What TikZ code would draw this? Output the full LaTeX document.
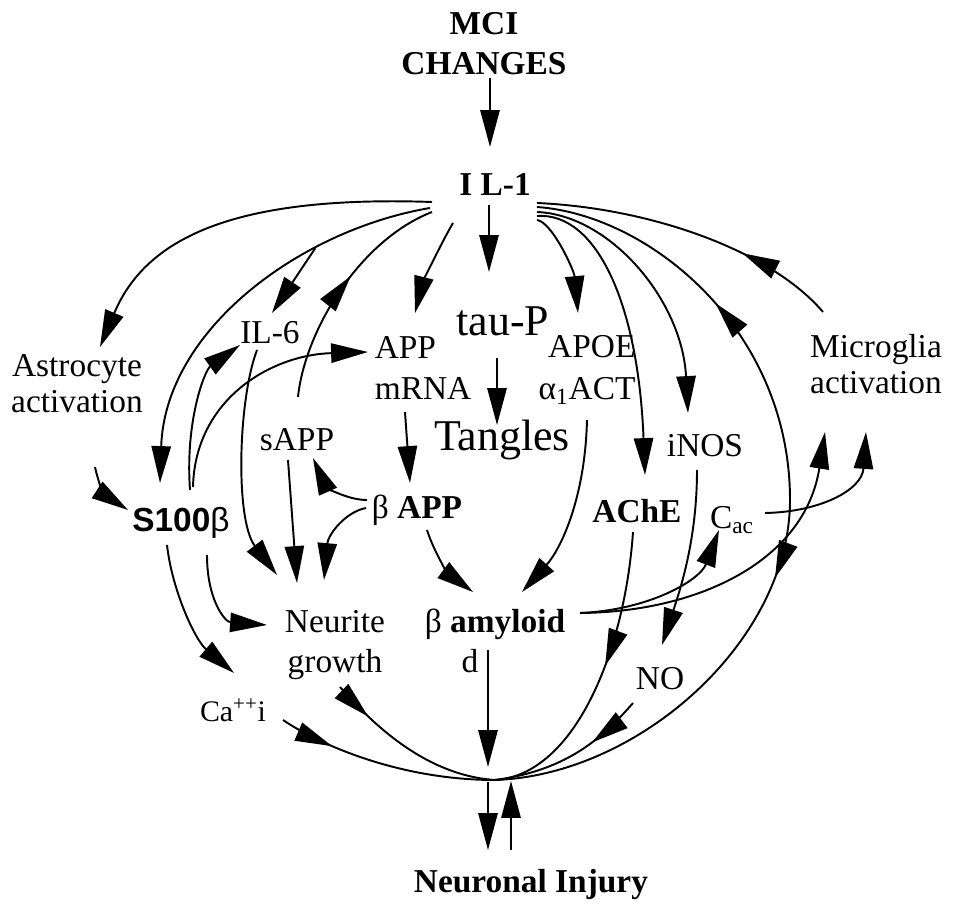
\documentclass[tikz,border=0pt]{standalone}
\usepackage{fontspec}
\setmainfont{Liberation Serif}
\setsansfont{Liberation Sans}
\usetikzlibrary{arrows.meta,calc,decorations.markings}

\begin{document}
\begin{tikzpicture}[x=0.02cm, y=-0.02cm, line width=1.1pt,
  >={Triangle[length=21pt,width=11pt]},
  txt/.style={inner sep=0pt, align=center, font=\fontsize{19}{20.5}\selectfont},
  big/.style={inner sep=0pt, font=\fontsize{25}{27}\selectfont},
  midarr/.style={postaction={decorate}, decoration={markings, mark=at position #1 with {\arrow{>}}}}]
\useasboundingbox (0,0) rectangle (953,911);

\node (mci) [txt, font=\bfseries\fontsize{19}{22.7}\selectfont] at (484,44) {MCI\\CHANGES};
\node (il1) [txt, font=\bfseries\fontsize{19}{21}\selectfont] at (495,184) {I L-1};
\node (astro) [txt] at (77,384) {Astrocyte\\activation};
\node (il6) [txt] at (270,333) {IL-6};
\node (appm) [txt, align=left, font=\fontsize{19}{23.8}\selectfont] at (423,368) {APP\\mRNA};
\node (taup) [big] at (503,321) {tau-P};
\node (apoe) [txt, align=right, font=\fontsize{19}{23.8}\selectfont] at (587,370) {APOE\\α\textsubscript{1}ACT};
\node (tangles) [big] at (502,440) {Tangles};
\node (micro) [txt] at (876,364) {Microglia\\activation};
\node (sapp) [txt] at (297,440) {sAPP};
\node (s100) [txt, font=\sffamily\fontsize{19}{21}\selectfont] at (181,523) {\textbf{S100}β};
\node (bapp) [txt] at (417,510) {β \textbf{APP}};
\node (ache) [txt, font=\bfseries\fontsize{19}{21}\selectfont] at (637,511) {AChE};
\node (inos) [txt] at (705,446) {iNOS};
\node (cac) [txt] at (732,520) {C\textsubscript{ac}};
\node (neurite) [txt, font=\fontsize{19}{22.7}\selectfont] at (335,645) {Neurite\\growth};
\node (bamy) [txt] at (495,624) {β \textbf{amyloid}};
\node (bamyd) [txt] at (470,661) {d};
\node (cai) [txt, font=\fontsize{17}{19}\selectfont] at (233,710) {Ca\textsuperscript{++}i};
\node (no) [txt] at (660,679) {NO};
\node (neur) [txt, font=\bfseries\fontsize{19}{21}\selectfont] at (531,885) {Neuronal Injury};
\coordinate (hub) at (495,780);

% top
\draw [->] ($(mci)+(6,34)$) -- ($(il1)+(-5,-37)$);
\draw [->] ($(il1)+(-6,21)$) -- ($(taup)+(-14,-49)$);

% from IL-1, left side
\draw [->] ($(il1)+(-63,18)$) .. controls (230,195) and (145,240) .. ($(astro)+(23,-37)$);
\draw [->] ($(il1)+(-65,24)$) .. controls (300,230) and (165,330) .. ($(s100)+(-21,-40)$) coordinate[pos=0.3] (fork);
\draw [->] (fork) -- ($(il6)+(2,-20)$);
\draw [midarr=0.56] ($(sapp)+(1,-43)$) .. controls (305,330) and (360,240) .. ($(il1)+(-63,28)$);
\draw [->] ($(il1)+(-42,39)$) .. controls (440,245) and (422,285) .. ($(appm)+(-8,-55)$);

% from IL-1, right side
\draw [->] ($(il1)+(42,36)$) .. controls (552,222) and (574,270) .. ($(apoe)+(-9,-57)$);
\draw [->] ($(il1)+(42,32)$) .. controls (595,212) and (638,300) .. ($(ache)+(8,-36)$);
\draw [->] ($(il1)+(42,28)$) .. controls (610,215) and (682,300) .. ($(inos)+(-17,-33)$);
\draw [midarr=0.32] ($(micro)+(-53,-52)$) .. controls (770,250) and (650,208) .. ($(il1)+(42,19)$);
\draw [postaction={decorate}, decoration={markings, mark=at position 0.24 with {\arrowreversed{>}}, mark=at position 0.58 with {\arrow{>}}}]
  ($(il1)+(42,23)$) .. controls (650,215) and (790,330) .. (790,500) .. controls (790,640) and (640,775) .. (hub);

% middle
\draw [->] ($(taup)+(-6,37)$) -- ($(tangles)+(-5,-15)$);
\draw [->] ($(appm)+(-18,44)$) -- ($(bapp)+(-7,-27)$);
\draw [->] ($(apoe)+(0,50)$) .. controls (585,500) and (560,550) .. ($(bamy)+(27,-32)$);
\draw [->] ($(bapp)+(10,20)$) .. controls (435,555) and (450,575) .. ($(bamy)+(-22,-32)$);
\draw [->] ($(bapp)+(-50,-10)$) .. controls (345,500) and (325,485) .. ($(sapp)+(16,18)$);
\draw [->] ($(bapp)+(-51,-2)$) .. controls (345,512) and (328,535) .. ($(neurite)+(-11,-65)$);
\draw [->] ($(sapp)+(-9,20)$) -- ($(neurite)+(-38,-62)$);
\draw [->] ($(il6)+(-13,17)$) .. controls (238,400) and (235,520) .. ($(neurite)+(-58,-70)$);

% S100b
\draw [->] ($(s100)+(9,-33)$) .. controls (185,420) and (205,370) .. ($(il6)+(-30,12)$);
\draw [->] ($(s100)+(12,-36)$) .. controls (195,400) and (270,355) .. ($(appm)+(-55,-16)$);
\draw [->] ($(astro)+(18,83)$) .. controls (98,482) and (105,495) .. ($(s100)+(-53,-13)$);
\draw [->] ($(s100)+(26,32)$) .. controls (207,600) and (225,622) .. ($(neurite)+(-68,-20)$);
\draw [->] ($(s100)+(-14,22)$) .. controls (172,590) and (195,640) .. ($(cai)+(1,-37)$);

% right: iNOS, Cac, microglia
\draw [->] ($(inos)+(-8,24)$) .. controls (697,540) and (680,590) .. ($(no)+(2,-34)$);
\draw [->] ($(bamy)+(85,-11)$) .. controls (650,610) and (700,580) .. ($(cac)+(-13,10)$);
\draw [->] ($(bamy)+(85,-11)$) .. controls (700,612) and (805,560) .. ($(micro)+(-51,68)$);
\draw [->] ($(cac)+(33,-7)$) .. controls (820,512) and (862,490) .. ($(micro)+(-10,68)$);

% into neuronal injury
\draw [midarr=0.25] ($(cai)+(50,10)$) .. controls (320,745) and (400,780) .. (hub);
\draw [midarr=0.22] ($(neurite)+(5,42)$) .. controls (365,715) and (420,775) .. (hub);
\draw [midarr=0.35] ($(no)+(-27,24)$) .. controls (605,735) and (570,770) .. (hub);
\draw [midarr=0.45] ($(ache)+(-4,21)$) .. controls (625,650) and (575,775) .. (hub);
\draw [->] ($(bamy)+(-7,26)$) -- ($(hub)+(-7,-13)$);
\draw [->] ($(hub)+(-7,2)$) -- ($(neur)+(-43,-35)$);
\draw [->] ($(neur)+(-20,-35)$) -- ($(hub)+(16,1)$);
\end{tikzpicture}
\end{document}
